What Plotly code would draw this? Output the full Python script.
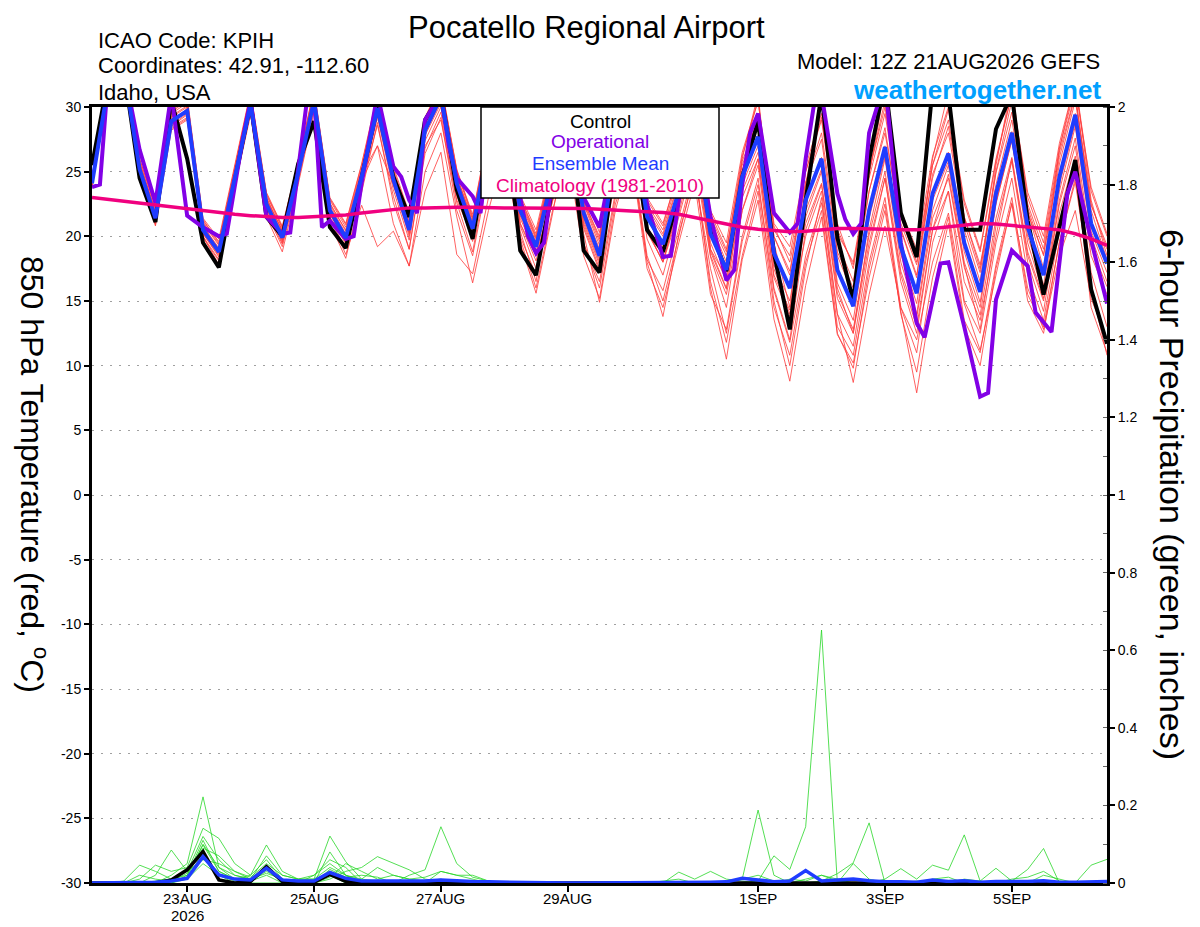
import plotly.graph_objects as go

# ---------------- DATA ----------------
steps = list(range(65))  # 6-hourly forecast steps from 12Z 21AUG2026
tick_steps = [6, 14, 22, 30, 42, 50, 58]
tick_labels = ["23AUG", "25AUG", "27AUG", "29AUG", "1SEP", "3SEP", "5SEP"]
year_label = "2026"

temp_ticks = [-30, -25, -20, -15, -10, -5, 0, 5, 10, 15, 20, 25, 30]
temp_tick_labels = ["-30", "-25", "-20", "-15", "-10", "-5", "0", "5", "10", "15", "20", "25", "30"]
prcp_ticks = [0, 0.2, 0.4, 0.6, 0.8, 1.0, 1.2, 1.4, 1.6, 1.8, 2.0]
prcp_tick_labels = ["0", "0.2", "0.4", "0.6", "0.8", "1", "1.2", "1.4", "1.6", "1.8", "2"]

control_temp = [25.5, 32, 33, 24.5, 21.1, 30.5, 26.0, 19.5, 17.6, 24.3, 30.3, 21.5, 20.0, 25.6, 28.9, 20.7,
                19.1, 24.6, 30.0, 24.6, 21.5, 29.0, 31.0, 23.6, 19.8, 27, 30, 18.9, 17.0, 23.5, 29, 18.9,
                17.2, 26, 29, 20.5, 18.8, 23.0, 28.5, 20.5, 17.3, 24.6, 28.9, 18.7, 12.8, 22.8, 31.0, 19.9,
                15.0, 25.9, 32, 21.8, 18.4, 31.5, 31.0, 20.5, 20.5, 28.3, 31.0, 21.2, 15.5, 20.7, 25.9, 15.9,
                11.7]

mean_temp = [24.1, 31.5, 33.0, 25.2, 21.4, 28.9, 29.7, 20.5, 18.8, 24.6, 30.2, 22.5, 19.9, 24.9, 30.5, 22.0,
             19.9, 24.6, 29.9, 24.4, 20.5, 28.2, 30.8, 24.1, 20.6, 27.0, 30.5, 22.0, 19.2, 24.5, 29.5, 21.8,
             18.5, 26.5, 29.5, 21.5, 19.4, 23.5, 28.5, 20.2, 17.4, 24.6, 27.7, 18.7, 16.0, 22.8, 26.0, 17.4,
             14.6, 22.0, 26.9, 19.2, 15.6, 23.3, 26.4, 19.5, 15.7, 23.3, 28.0, 20.7, 17.0, 24.6, 29.4, 21.0,
             17.9]

clim_temp = [23.0, 22.85, 22.7, 22.55, 22.4, 22.25, 22.1, 21.95, 21.8, 21.7, 21.6, 21.5, 21.45, 21.45, 21.5, 21.55,
             21.65, 21.8, 21.95, 22.1, 22.2, 22.2, 22.25, 22.25, 22.25, 22.2, 22.2, 22.2, 22.2, 22.2, 22.2, 22.15,
             22.1, 22.0, 21.95, 21.9, 21.85, 21.7, 21.45, 21.15, 20.9, 20.7, 20.55, 20.45, 20.35, 20.4, 20.5, 20.6,
             20.6, 20.6, 20.55, 20.5, 20.5, 20.6, 20.75, 20.9, 21.0, 20.95, 20.85, 20.75, 20.65, 20.5, 20.2, 19.8,
             19.3]

oper_steps = [0, 0.5, 1, 2, 3, 4, 5, 6, 7, 8, 8.5, 9.5, 10, 11, 12, 12.5, 13.5, 14, 14.5, 15,
              16, 16.5, 17, 18, 19, 19.5, 20, 20.5, 21, 22, 22.5, 23, 24, 24.5, 25, 26, 27, 27.5, 28, 28.5,
              29, 30, 31, 32, 33, 34, 35, 36, 36.5, 37, 38, 39, 40, 40.5, 41, 41.5, 42, 43, 44, 44.5,
              45, 45.5, 46, 47, 47.5, 48, 48.5, 49, 50, 51, 52, 52.5, 53.5, 54, 55, 56, 56.5, 57, 58, 59,
              59.5, 60.5, 61.5, 62, 63, 64]
oper_temp = [23.8, 24.0, 32, 33, 26.7, 22.6, 31, 21.6, 20.7, 20.0, 20.2, 27.5, 30.5, 21.5, 20.2, 20.3, 30, 31, 20.7, 21.2,
             19.8, 20.0, 24.1, 31, 25.4, 24.6, 22.8, 21.8, 29, 31, 27, 24.5, 23.1, 21.8, 27, 31, 23, 20, 18.7, 19.5,
             24, 30, 23, 20.7, 27, 30, 22.5, 18.4, 18.5, 22.8, 29, 21.5, 16.6, 17.4, 24, 28, 29.5, 21.8, 20.3, 21.0,
             26, 30, 31, 23.3, 21.3, 20.2, 21.0, 28, 32, 19.5, 13.3, 12.2, 17.9, 18.0, 13.0, 7.6, 7.9, 15.1, 18.9, 17.7,
             14.1, 12.6, 23.3, 25.0, 19.7, 14.8]

ens_t01 = [24.5, 31.8, 33.2, 25.8, 21.9, 29.5, 30.3, 21.0, 19.3, 25.1, 30.8, 23.0, 20.3, 25.4, 31.0, 22.6,
           20.4, 25.1, 30.5, 24.9, 21.0, 28.8, 31.4, 24.7, 21.1, 27.6, 31.2, 22.6, 19.8, 25.2, 30.3, 22.5,
           19.3, 27.2, 30.4, 22.3, 20.2, 24.4, 29.6, 21.2, 18.5, 25.8, 29.0, 20.0, 17.3, 24.1, 27.5, 18.8,
           16.0, 23.5, 28.4, 20.6, 17.0, 24.8, 28.0, 21.0, 17.2, 24.9, 29.6, 22.2, 18.5, 26.1, 30.9, 22.4, 19.3]
ens_t02 = [23.8, 31.0, 32.6, 24.8, 20.8, 28.2, 29.0, 19.9, 18.1, 24.0, 29.6, 21.8, 19.2, 24.2, 29.8, 21.3,
           19.1, 23.9, 29.2, 23.6, 19.7, 27.4, 30.0, 23.2, 19.6, 26.0, 29.4, 21.0, 18.1, 23.4, 28.4, 20.6,
           17.3, 25.3, 28.3, 20.3, 18.1, 22.2, 27.1, 18.8, 15.9, 23.0, 26.0, 17.0, 14.3, 21.0, 24.1, 15.6,
           12.8, 20.1, 25.0, 17.3, 13.7, 21.4, 24.5, 17.6, 13.9, 21.4, 26.1, 18.8, 15.2, 22.8, 27.6, 19.2, 16.1]
ens_t03 = [24.3, 31.4, 33.1, 25.0, 21.2, 28.7, 29.9, 20.2, 18.5, 24.4, 30.0, 22.2, 19.6, 24.6, 30.2, 21.8,
           19.5, 24.0, 28.6, 23.1, 19.0, 26.4, 29.2, 22.0, 18.5, 24.8, 28.2, 20.0, 17.0, 22.6, 27.0, 19.4,
           16.5, 23.4, 26.6, 18.2, 15.8, 20.6, 25.4, 16.0, 10.5, 18.2, 22.8, 13.6, 8.8, 16.2, 21.5, 12.4,
           10.2, 16.8, 22.0, 14.2, 7.9, 15.5, 21.0, 13.0, 10.0, 17.5, 22.5, 15.0, 12.5, 19.6, 24.2, 16.0, 10.8]
ens_t04 = [24.0, 31.2, 32.8, 25.0, 21.6, 28.5, 29.4, 20.8, 19.0, 24.8, 30.4, 22.8, 20.5, 25.2, 30.8, 22.4,
           20.2, 24.2, 27.0, 21.0, 17.7, 25.0, 28.0, 21.5, 16.4, 22.0, 26.5, 19.5, 15.6, 21.5, 27.8, 20.2,
           14.9, 22.0, 26.5, 18.0, 13.8, 20.2, 24.8, 17.5, 12.5, 19.6, 24.0, 15.8, 11.8, 18.5, 22.6, 14.0,
           8.7, 15.5, 20.8, 14.5, 12.0, 18.0, 21.8, 14.8, 11.2, 17.0, 22.6, 16.0, 12.8, 18.5, 22.0, 15.2, 12.0]
ens_t05 = [24.6, 32.0, 33.5, 26.0, 22.3, 29.8, 30.8, 21.4, 19.8, 25.6, 31.2, 23.4, 20.8, 25.8, 31.4, 23.0,
           21.0, 25.6, 31.0, 25.4, 21.8, 29.2, 31.8, 25.2, 21.5, 28.0, 31.6, 23.2, 20.5, 25.8, 30.8, 23.2,
           20.3, 28.0, 31.0, 23.0, 21.0, 25.0, 30.2, 22.0, 19.5, 26.5, 30.5, 21.0, 19.2, 25.4, 29.5, 20.2,
           18.0, 25.0, 30.5, 22.0, 19.0, 26.2, 30.0, 22.8, 19.0, 26.0, 31.0, 23.4, 20.0, 27.2, 32.0, 23.5, 20.0]
ens_t06 = [23.9, 31.3, 32.9, 25.4, 21.5, 29.1, 29.5, 20.3, 18.6, 24.7, 30.1, 22.4, 19.8, 24.8, 30.6, 21.9,
           19.8, 24.5, 29.8, 24.2, 20.3, 28.0, 30.6, 23.8, 20.2, 26.6, 30.2, 21.6, 18.8, 24.2, 29.2, 21.2,
           18.0, 26.0, 29.0, 20.8, 18.6, 22.8, 27.8, 19.5, 16.5, 24.0, 27.0, 17.8, 15.0, 22.0, 25.2, 16.4,
           13.5, 21.4, 26.2, 18.6, 14.8, 22.8, 25.8, 18.8, 14.9, 22.6, 27.4, 20.0, 16.2, 24.0, 28.8, 20.4, 17.2]
ens_t07 = [24.2, 31.6, 33.0, 25.3, 21.3, 28.8, 29.6, 20.6, 18.9, 24.5, 30.0, 22.6, 20.0, 24.9, 30.3, 21.4,
           18.6, 22.4, 19.2, 20.4, 17.7, 23.5, 26.5, 18.6, 17.1, 23.0, 28.0, 20.4, 16.5, 23.8, 28.6, 20.8,
           17.5, 24.5, 28.0, 19.8, 17.0, 21.5, 26.0, 18.4, 14.5, 22.0, 25.5, 16.0, 12.0, 20.5, 24.0, 15.2,
           12.5, 19.5, 24.5, 17.0, 13.0, 20.5, 23.5, 16.5, 13.5, 20.0, 26.0, 18.5, 15.0, 22.5, 27.0, 18.5, 15.5]
ens_t08 = [24.4, 31.7, 33.3, 25.6, 21.7, 29.2, 30.0, 20.8, 19.1, 24.9, 30.5, 22.8, 20.1, 25.1, 30.7, 22.2,
           20.1, 24.8, 27.0, 24.0, 20.6, 27.0, 29.0, 22.8, 20.0, 26.2, 29.0, 21.0, 18.5, 23.0, 28.0, 21.0,
           17.8, 25.0, 28.5, 20.5, 18.0, 21.8, 26.8, 18.5, 15.5, 22.0, 26.0, 16.8, 13.8, 20.0, 23.5, 14.0,
           11.5, 19.0, 24.5, 16.5, 12.5, 20.5, 24.8, 17.8, 12.8, 20.8, 25.8, 18.0, 14.2, 21.8, 26.2, 17.2, 13.0]
ens_t09 = [24.0, 31.4, 33.0, 25.1, 21.2, 28.6, 29.5, 20.2, 18.4, 24.3, 29.9, 22.1, 19.5, 24.6, 30.3, 21.7,
           19.6, 24.3, 29.6, 24.6, 20.8, 28.5, 31.2, 24.5, 21.0, 27.4, 31.0, 22.4, 19.6, 25.0, 30.0, 22.2,
           19.0, 27.0, 30.0, 22.0, 20.0, 24.2, 29.5, 21.5, 18.8, 26.2, 30.5, 20.5, 18.5, 25.0, 29.0, 20.5,
           17.8, 24.5, 29.5, 21.8, 18.5, 25.5, 29.8, 22.5, 18.8, 25.8, 31.0, 23.0, 19.5, 26.8, 31.5, 23.8, 20.2]
ens_t10 = [24.2, 31.5, 32.9, 25.0, 21.0, 28.4, 29.2, 20.0, 18.2, 24.2, 29.8, 21.9, 19.4, 24.4, 30.1, 21.5,
           19.4, 24.2, 29.5, 24.0, 20.0, 27.8, 30.3, 23.5, 19.8, 26.4, 30.0, 21.4, 18.6, 24.0, 29.0, 21.4,
           18.2, 25.8, 28.8, 20.5, 18.0, 22.6, 27.5, 19.0, 16.0, 23.5, 26.5, 17.5, 14.0, 21.5, 25.0, 16.0,
           12.5, 20.5, 26.0, 18.0, 14.0, 22.0, 25.5, 18.0, 14.5, 22.5, 27.5, 19.5, 15.5, 23.5, 28.5, 20.0, 16.5]
ens_t11 = [24.3, 31.6, 33.1, 25.5, 21.8, 29.3, 30.1, 21.1, 19.4, 25.0, 30.6, 23.0, 20.4, 25.3, 30.9, 22.5,
           20.5, 25.0, 30.2, 24.8, 21.2, 28.6, 31.3, 24.6, 21.3, 27.5, 31.0, 22.8, 19.9, 25.3, 30.2, 22.6,
           19.6, 27.4, 30.6, 22.5, 20.5, 24.8, 29.8, 21.8, 19.0, 25.5, 28.8, 20.8, 18.0, 24.2, 28.0, 19.5,
           16.5, 23.5, 28.0, 21.0, 17.8, 24.5, 28.5, 21.5, 17.8, 24.0, 29.0, 21.8, 18.6, 25.6, 30.5, 22.5, 19.0]
ens_t12 = [24.1, 31.4, 32.9, 25.2, 21.3, 28.8, 29.6, 20.4, 18.7, 24.5, 30.1, 22.3, 19.7, 24.7, 30.4, 21.8,
           19.7, 24.4, 29.7, 24.1, 20.2, 28.0, 30.5, 23.6, 20.0, 26.5, 29.8, 20.8, 17.5, 22.5, 27.5, 19.5,
           16.0, 23.0, 27.0, 18.5, 15.0, 20.0, 25.0, 16.5, 11.8, 18.5, 23.5, 14.5, 10.8, 18.0, 22.0, 12.5,
           9.8, 17.5, 22.5, 14.0, 9.5, 16.8, 21.5, 13.5, 11.0, 17.8, 23.0, 15.5, 13.0, 19.5, 24.5, 16.0, 12.0]
ens_t13 = [24.2, 31.5, 33.0, 25.3, 21.5, 29.0, 29.8, 20.6, 18.9, 24.7, 30.3, 22.6, 20.0, 25.0, 30.5, 22.1,
           20.0, 24.7, 30.0, 24.5, 20.6, 28.3, 30.9, 24.2, 20.7, 27.1, 30.6, 22.1, 19.3, 24.6, 29.6, 21.9,
           18.6, 26.6, 29.6, 21.6, 19.5, 23.6, 28.6, 20.3, 17.5, 24.7, 27.8, 18.8, 16.2, 22.9, 26.1, 17.5,
           14.8, 22.1, 27.0, 19.3, 15.7, 23.4, 26.5, 19.6, 15.8, 23.4, 28.1, 20.8, 17.1, 24.7, 29.5, 21.1, 18.0]
ens_t14 = [24.4, 31.8, 33.4, 25.7, 22.0, 29.6, 30.5, 21.2, 19.6, 25.3, 31.0, 23.2, 20.6, 25.6, 31.2, 22.8,
           20.7, 25.3, 30.7, 25.0, 21.5, 29.0, 31.6, 25.0, 21.4, 27.8, 31.4, 23.0, 20.2, 25.6, 30.6, 22.8,
           19.8, 27.8, 31.2, 22.5, 19.0, 23.0, 29.0, 19.0, 16.8, 26.0, 31.0, 19.5, 14.5, 24.0, 30.5, 18.5,
           15.5, 24.8, 31.5, 20.5, 16.8, 26.0, 31.2, 20.5, 16.5, 25.5, 31.8, 22.0, 17.5, 26.8, 32.0, 22.8, 18.5]
ens_t15 = [24.0, 31.3, 32.8, 24.9, 20.9, 28.3, 29.1, 20.0, 17.8, 23.8, 29.4, 21.5, 18.8, 24.0, 29.6, 21.0,
           18.3, 23.4, 28.8, 22.6, 19.0, 26.8, 29.6, 22.6, 18.8, 25.4, 28.8, 19.8, 16.0, 21.8, 26.5, 18.5,
           15.2, 22.5, 26.2, 17.5, 14.5, 19.5, 24.2, 15.5, 12.8, 20.0, 24.5, 15.0, 10.0, 17.5, 23.0, 13.0,
           10.8, 18.0, 23.0, 14.5, 11.0, 19.5, 23.5, 15.0, 12.5, 19.5, 24.5, 17.0, 13.5, 20.5, 25.5, 14.5, 11.0]
ens_t16 = [24.5, 31.9, 33.5, 26.0, 22.2, 29.7, 30.6, 21.3, 19.5, 25.4, 31.1, 23.3, 20.7, 25.7, 31.3, 22.9,
           20.9, 25.5, 30.8, 25.2, 21.6, 29.1, 31.7, 25.1, 21.7, 28.0, 31.5, 23.0, 20.0, 25.5, 30.5, 22.7,
           20.0, 27.8, 30.8, 22.8, 20.8, 25.2, 30.0, 21.0, 18.0, 25.0, 29.5, 20.0, 17.0, 25.0, 29.2, 21.0,
           17.5, 25.0, 30.0, 21.5, 18.0, 25.5, 29.0, 21.5, 17.5, 25.0, 30.5, 22.5, 19.0, 26.5, 31.0, 22.0, 18.2]

control_prcp = [0, 0, 0, 0, 0, 0.008, 0.034, 0.081, 0.008, 0, 0.004, 0.042, 0.004, 0, 0.002, 0.022, 0.004, 0, 0, 0,
                0, 0, 0, 0, 0, 0, 0, 0, 0, 0, 0, 0, 0, 0, 0, 0, 0, 0, 0, 0,
                0, 0, 0, 0, 0, 0, 0, 0, 0, 0, 0, 0, 0, 0, 0, 0, 0, 0, 0, 0, 0, 0, 0, 0, 0]
mean_prcp = [0, 0, 0, 0.001, 0.002, 0.005, 0.012, 0.068, 0.021, 0.010, 0.008, 0.038, 0.008, 0.005, 0.005, 0.027,
             0.012, 0.005, 0.005, 0.003, 0.003, 0.005, 0.008, 0.005, 0.004, 0.003, 0.002, 0.002, 0.001, 0,
             0, 0, 0, 0, 0, 0, 0, 0.001, 0.001, 0.002, 0.003, 0.012, 0.008, 0.003, 0.005, 0.032, 0.005, 0.008,
             0.010, 0.006, 0.003, 0.003, 0.002, 0.008, 0.004, 0.006, 0.002, 0.004, 0.003, 0.004, 0.006, 0.002,
             0.002, 0.003, 0.004]

ens_p01 = [0, 0, 0, 0, 0, 0.02, 0.05, 0.222, 0.04, 0.01, 0.02, 0.06, 0.01, 0, 0.005, 0.03, 0.01, 0, 0, 0,
           0, 0, 0, 0, 0, 0, 0, 0, 0, 0, 0, 0, 0, 0, 0, 0, 0, 0, 0, 0,
           0, 0.01, 0.188, 0.02, 0, 0, 0, 0, 0, 0, 0, 0, 0, 0, 0, 0, 0, 0, 0, 0, 0, 0, 0, 0, 0]
ens_p02 = [0, 0, 0, 0.01, 0.046, 0.03, 0.04, 0.141, 0.115, 0.05, 0.02, 0.098, 0.03, 0.01, 0.02, 0.05, 0.02, 0.005, 0, 0,
           0, 0, 0, 0, 0, 0, 0, 0, 0, 0, 0, 0, 0, 0, 0, 0, 0, 0.028, 0.01, 0.03,
           0.01, 0.005, 0, 0, 0, 0, 0, 0, 0, 0, 0, 0, 0, 0, 0, 0, 0, 0, 0, 0, 0, 0, 0, 0, 0]
ens_p03 = [0, 0, 0, 0, 0.02, 0.085, 0.03, 0.12, 0.06, 0.02, 0.01, 0.07, 0.02, 0.01, 0.01, 0.121, 0.055, 0.01, 0.005, 0,
           0, 0, 0, 0, 0, 0, 0, 0, 0, 0, 0, 0, 0, 0, 0, 0, 0, 0, 0, 0,
           0, 0, 0.005, 0.07, 0.035, 0.145, 0.652, 0, 0, 0, 0, 0, 0, 0, 0, 0, 0, 0, 0, 0, 0, 0, 0, 0, 0]
ens_p04 = [0, 0, 0.005, 0.046, 0.03, 0.01, 0.02, 0.098, 0.03, 0.01, 0.01, 0.04, 0.01, 0, 0, 0.01, 0.03, 0.04, 0.068, 0.05,
           0.034, 0.01, 0.005, 0, 0, 0, 0, 0, 0, 0, 0, 0, 0, 0, 0, 0, 0, 0, 0, 0,
           0, 0, 0, 0, 0, 0, 0.005, 0.024, 0.052, 0.155, 0, 0, 0, 0, 0, 0, 0, 0, 0, 0, 0, 0, 0, 0, 0]
ens_p05 = [0, 0, 0, 0, 0, 0, 0.01, 0.08, 0.02, 0, 0, 0, 0, 0, 0.02, 0.06, 0.04, 0, 0, 0,
           0.02, 0.034, 0.145, 0.05, 0.015, 0.005, 0, 0, 0, 0, 0, 0, 0, 0, 0, 0, 0, 0, 0, 0,
           0, 0, 0, 0, 0, 0, 0, 0, 0, 0, 0.01, 0.037, 0.01, 0.046, 0.033, 0.124, 0.005, 0.038, 0.005, 0.035,
           0.089, 0, 0, 0, 0]
ens_p06 = [0, 0, 0, 0, 0, 0.01, 0.03, 0.06, 0.05, 0.03, 0.015, 0.05, 0.02, 0.01, 0.01, 0.04, 0.02, 0.01, 0.04, 0.02,
           0.01, 0.015, 0.03, 0.02, 0.01, 0, 0, 0, 0, 0, 0, 0, 0, 0, 0, 0, 0, 0, 0, 0,
           0, 0, 0, 0, 0, 0, 0, 0, 0.05, 0.01, 0, 0, 0, 0, 0, 0, 0, 0, 0, 0, 0, 0, 0, 0.046, 0.061]
ens_p07 = [0, 0, 0, 0, 0, 0, 0.02, 0.11, 0.03, 0.01, 0.005, 0.03, 0.005, 0, 0, 0.08, 0.02, 0, 0, 0,
           0, 0, 0.03, 0.02, 0.02, 0.005, 0, 0, 0, 0, 0, 0, 0, 0, 0, 0, 0, 0, 0, 0,
           0, 0, 0, 0, 0, 0.01, 0.02, 0.005, 0, 0, 0, 0, 0, 0, 0, 0, 0, 0, 0.01, 0.015, 0.03, 0.005, 0, 0, 0]
ens_p08 = [0, 0, 0, 0, 0.005, 0.01, 0.01, 0.05, 0.02, 0.005, 0.005, 0.02, 0, 0, 0.005, 0.02, 0, 0, 0, 0,
           0, 0, 0, 0, 0, 0, 0, 0, 0, 0, 0, 0, 0, 0, 0, 0, 0.005, 0.01, 0, 0,
           0, 0, 0, 0, 0.01, 0.005, 0.02, 0.01, 0, 0, 0, 0, 0, 0.01, 0.015, 0, 0, 0, 0, 0, 0, 0, 0, 0, 0]
ens_p09 = [0, 0, 0, 0, 0, 0, 0.015, 0.1, 0.04, 0.02, 0.01, 0.025, 0.01, 0, 0, 0.035, 0.015, 0.02, 0.015, 0,
           0, 0, 0, 0, 0, 0, 0, 0, 0, 0, 0, 0, 0, 0, 0, 0, 0, 0, 0, 0,
           0.005, 0.01, 0.02, 0.005, 0, 0, 0, 0, 0.01, 0, 0, 0, 0.005, 0, 0, 0, 0, 0, 0, 0, 0.02, 0.01, 0, 0, 0]
ens_p10 = [0, 0, 0, 0.02, 0.01, 0.005, 0.025, 0.09, 0.07, 0.03, 0.01, 0.035, 0.005, 0, 0, 0.015, 0.05, 0.03, 0.01, 0.02,
           0.01, 0.005, 0.01, 0, 0, 0, 0, 0, 0, 0, 0, 0, 0, 0, 0, 0, 0, 0, 0, 0,
           0, 0, 0, 0, 0, 0, 0, 0, 0, 0, 0, 0, 0, 0, 0, 0.01, 0.005, 0, 0, 0, 0, 0, 0, 0, 0]

ens_temp_members = [ens_t01, ens_t02, ens_t03, ens_t04, ens_t05, ens_t06, ens_t07, ens_t08,
                    ens_t09, ens_t10, ens_t11, ens_t12, ens_t13, ens_t14, ens_t15, ens_t16]
ens_prcp_members = [ens_p01, ens_p02, ens_p03, ens_p04, ens_p05, ens_p06, ens_p07, ens_p08, ens_p09, ens_p10]

# ---------------- STYLE ----------------
FONT = "Liberation Sans, Arial, Helvetica, sans-serif"
W, H = 1200, 927
BODY = 8  # default page margin of the html body
L, R, T, B = 92, 1107, 107, 883   # target plot box in the screenshot


def px(x):
    return (x - L) / (R - L)


def py(y):
    return (B - y) / (B - T)


fig = go.Figure()

for m in ens_temp_members:
    fig.add_trace(go.Scatter(x=steps, y=m, mode="lines", line=dict(color="rgba(255,60,60,0.9)", width=0.9),
                             hoverinfo="skip", showlegend=False))

for m in ens_prcp_members:
    fig.add_trace(go.Scatter(x=steps, y=m, yaxis="y2", mode="lines",
                             line=dict(color="rgb(40,215,40)", width=0.8), hoverinfo="skip", showlegend=False))

fig.add_trace(go.Scatter(x=steps, y=control_prcp, yaxis="y2", mode="lines",
                         line=dict(color="black", width=3.5), showlegend=False))
fig.add_trace(go.Scatter(x=steps, y=mean_prcp, yaxis="y2", mode="lines",
                         line=dict(color="#1f3cff", width=3.5), showlegend=False))

fig.add_trace(go.Scatter(x=steps, y=control_temp, mode="lines", line=dict(color="black", width=4), showlegend=False))
fig.add_trace(go.Scatter(x=oper_steps, y=oper_temp, mode="lines", line=dict(color="#8200e6", width=4), showlegend=False))
fig.add_trace(go.Scatter(x=steps, y=mean_temp, mode="lines", line=dict(color="#1f3cff", width=4), showlegend=False))
fig.add_trace(go.Scatter(x=steps, y=clim_temp, mode="lines", line=dict(color="#f0007f", width=3.5), showlegend=False))

xtick_font = dict(family=FONT, size=15, color="black")
ytick_font = dict(family=FONT, size=14, color="black")

fig.update_layout(
    width=W, height=H,
    margin=dict(l=L - BODY, r=W - R + BODY, t=T - BODY, b=H - B + BODY, pad=0, autoexpand=False),
    paper_bgcolor="white", plot_bgcolor="white",
    showlegend=False,
    xaxis=dict(range=[0, 64], tickmode="array", tickvals=tick_steps, showticklabels=False,
               ticks="outside", ticklen=6, tickwidth=1.5, tickcolor="black",
               showgrid=False, zeroline=False, showline=True, linecolor="black", linewidth=3, mirror=True,
               automargin=False),
    yaxis=dict(range=[-30, 30], tickmode="array", tickvals=temp_ticks, ticktext=temp_tick_labels,
               ticks="outside", ticklen=5, tickwidth=1.5, tickcolor="black", tickfont=ytick_font,
               showgrid=True, gridcolor="#a0a0a0", gridwidth=1.3, griddash="2px,7px", zeroline=False,
               showline=True, linecolor="black", linewidth=3, automargin=False),
    yaxis2=dict(range=[0, 2], overlaying="y", side="right", tickmode="array", tickvals=prcp_ticks,
                ticktext=prcp_tick_labels, ticks="outside", ticklen=5, tickwidth=1.5, tickcolor="black",
                tickfont=ytick_font, showgrid=False, zeroline=False, showline=True, linecolor="black",
                linewidth=3, automargin=False,
                minor=dict(dtick=0.1, ticks="inside", ticklen=4, tickwidth=1, tickcolor="#666666")),
)

# x tick labels (date) placed under their tick marks
for s, lab in zip(tick_steps, tick_labels):
    fig.add_annotation(xref="x", yref="paper", x=s, y=py(898), text=lab, showarrow=False,
                       xanchor="center", yanchor="middle", font=xtick_font)
fig.add_annotation(xref="x", yref="paper", x=tick_steps[0], y=py(915), text=year_label, showarrow=False,
                   xanchor="center", yanchor="middle", font=xtick_font)

# Legend box
fig.add_shape(type="rect", xref="paper", yref="paper", x0=px(481), x1=px(719), y0=py(198), y1=1.0,
              fillcolor="white", line=dict(color="black", width=1.5), layer="above")

legend_items = [("Control", "black", 121), ("Operational", "#8200e6", 142),
                ("Ensemble Mean", "#1f3cff", 164), ("Climatology (1981-2010)", "#f0007f", 186)]
for txt, col, yy in legend_items:
    fig.add_annotation(xref="paper", yref="paper", x=px(600), y=py(yy), text=txt, showarrow=False,
                       xanchor="center", yanchor="middle", borderpad=0, font=dict(family=FONT, size=19, color=col))

# Header texts
fig.add_annotation(xref="paper", yref="paper", x=px(586), y=py(BODY + 0.5), text="Pocatello Regional Airport",
                   showarrow=False, xanchor="center", yanchor="top", borderpad=0,
                   font=dict(family=FONT, size=31, color="black"))
for txt, yy in [("ICAO Code: KPIH", 40), ("Coordinates: 42.91, -112.60", 66), ("Idaho, USA", 92)]:
    fig.add_annotation(xref="paper", yref="paper", x=px(97), y=py(yy), text=txt, showarrow=False,
                       xanchor="left", yanchor="middle", borderpad=0,
                       font=dict(family=FONT, size=22, color="black"))
fig.add_annotation(xref="paper", yref="paper", x=px(1101), y=py(62), text="Model: 12Z 21AUG2026 GEFS",
                   showarrow=False, xanchor="right", yanchor="middle", borderpad=0,
                   font=dict(family=FONT, size=22, color="black"))
fig.add_annotation(xref="paper", yref="paper", x=px(1102), y=py(90), text="<b>weathertogether.net</b>",
                   showarrow=False, xanchor="right", yanchor="middle", borderpad=0,
                   font=dict(family=FONT, size=26, color="#00a0ff"))

# Axis titles (both read top to bottom)
fig.add_annotation(xref="paper", yref="paper", x=px(34), y=py(474), text="850 hPa Temperature (red, <sup>o</sup>C)",
                   showarrow=False, textangle=90, xanchor="center", yanchor="middle",
                   font=dict(family=FONT, size=32, color="black"))
fig.add_annotation(xref="paper", yref="paper", x=px(1172), y=py(494), text="6-hour Precipitation (green, inches)",
                   showarrow=False, textangle=90, xanchor="center", yanchor="middle",
                   font=dict(family=FONT, size=34, color="black"))

fig.write_html("out.html")
